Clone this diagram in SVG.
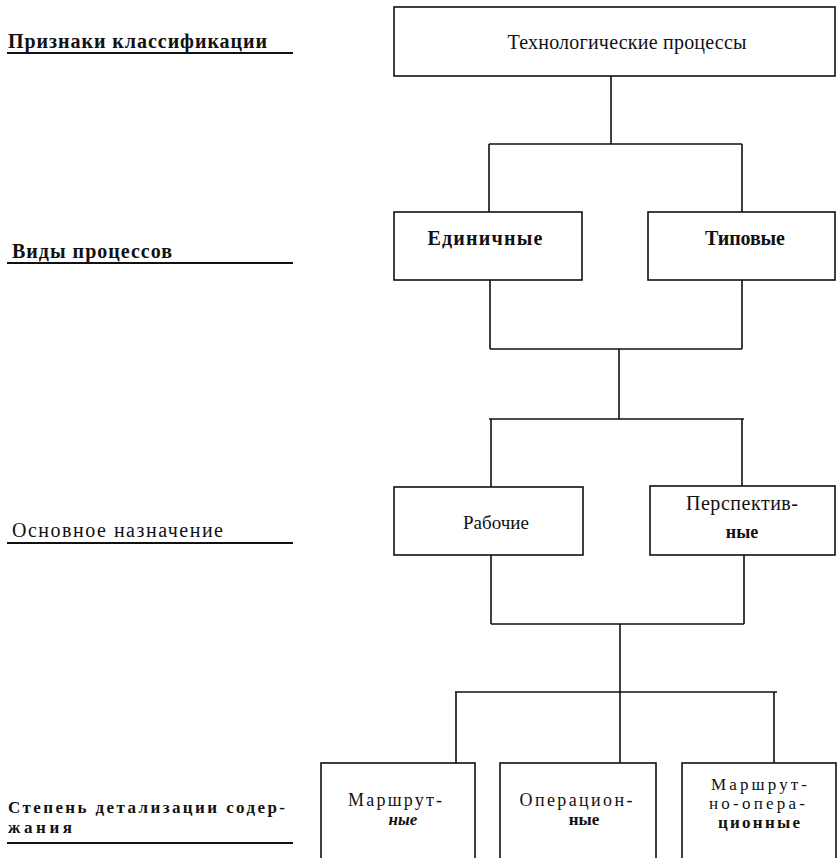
<svg xmlns="http://www.w3.org/2000/svg" width="837" height="858" viewBox="0 0 837 858">
<style>
.bg{fill:#fff}
.box{fill:none;stroke:#111;stroke-width:1.6}
.ln{fill:none;stroke:#111;stroke-width:1.6}
.ul{stroke:#111;stroke-width:2}
.t{font-family:"Liberation Serif","DejaVu Serif",serif;font-size:20px;fill:#111;text-anchor:middle}
.t2{font-family:"Liberation Serif","DejaVu Serif",serif;font-size:17px;fill:#111;text-anchor:middle}
.lab{font-family:"Liberation Serif","DejaVu Serif",serif;font-size:20px;fill:#111;font-weight:bold}
</style>
<rect class="bg" x="0" y="0" width="837" height="858"/>

<g id="labels">
<text class="lab" x="8" y="48" textLength="259" lengthAdjust="spacing">Признаки классификации</text>
<line class="ul" x1="7" y1="53" x2="293" y2="53"/>
<text class="lab" x="12" y="258" textLength="160" lengthAdjust="spacing">Виды процессов</text>
<line class="ul" x1="7" y1="263" x2="293" y2="263"/>
<text class="lab" x="12" y="537" textLength="211" lengthAdjust="spacing" style="font-weight:normal;font-size:20px">Основное назначение</text>
<line class="ul" x1="7" y1="543" x2="293" y2="543"/>
<text class="lab" x="8" y="813" textLength="277" lengthAdjust="spacing" style="font-size:17px">Степень детализации содер-</text>
<text class="lab" x="8" y="833" textLength="64" lengthAdjust="spacing" style="font-size:17px">жания</text>
<line class="ul" x1="7" y1="843" x2="293" y2="843"/>
</g>

<g id="connectors">
<path class="ln" d="M611,76 V144 M489,144 H742 M489,144 V212 M742,144 V212"/>
<path class="ln" d="M490,280 V349 M742,280 V349 M490,349 H742"/>
<path class="ln" d="M619,349 V419 M489,419 H744 M491,419 V487 M742,419 V486"/>
<path class="ln" d="M491,555 V624 M744,555 V624 M491,624 H744"/>
<path class="ln" d="M620,624 V692 M455,692 H777 M456,692 V763 M620,692 V763 M774,692 V763"/>
</g>

<g id="node-tech">
<rect class="box" x="394" y="7" width="441" height="69"/>
<text class="t" x="627" y="49" textLength="239" lengthAdjust="spacing">Технологические процессы</text>
</g>

<g id="node-edinichnye">
<rect class="box" x="394" y="212" width="188" height="68"/>
<text class="t" x="485" y="245" textLength="115" lengthAdjust="spacing" style="font-weight:bold">Единичные</text>
</g>

<g id="node-tipovye">
<rect class="box" x="648" y="212" width="187" height="68"/>
<text class="t" x="745" y="245" textLength="80" lengthAdjust="spacing" style="font-weight:bold">Типовые</text>
</g>

<g id="node-rabochie">
<rect class="box" x="394" y="487" width="189" height="68"/>
<text class="t" x="496" y="529" textLength="66" lengthAdjust="spacing" style="font-size:19px">Рабочие</text>
</g>

<g id="node-perspektivnye">
<rect class="box" x="650" y="486" width="185" height="69"/>
<text class="t" x="742" y="510" textLength="112" lengthAdjust="spacing">Перспектив-</text>
<text class="t" x="742" y="538" style="font-size:18px;font-weight:bold">ные</text>
</g>

<g id="node-marshrutnye">
<rect class="box" x="321" y="763" width="154" height="120"/>
<text class="t2" x="395" y="806" textLength="94" lengthAdjust="spacing" style="font-size:18px">Маршрут-</text>
<text class="t2" x="403" y="825" style="font-style:italic;font-weight:bold">ные</text>
</g>

<g id="node-operacionnye">
<rect class="box" x="500" y="763" width="156" height="120"/>
<text class="t2" x="576" y="806" textLength="113" lengthAdjust="spacing" style="font-size:18px">Операцион-</text>
<text class="t2" x="584" y="825" style="font-weight:bold">ные</text>
</g>

<g id="node-marshrutno-operacionnye">
<rect class="box" x="682" y="763" width="154" height="120"/>
<text class="t2" x="759" y="790" textLength="96" lengthAdjust="spacing">Маршрут-</text>
<text class="t2" x="757" y="809" textLength="96" lengthAdjust="spacing">но-опера-</text>
<text class="t2" x="759" y="828" textLength="82" lengthAdjust="spacing" style="font-weight:bold">ционные</text>
</g>
</svg>
